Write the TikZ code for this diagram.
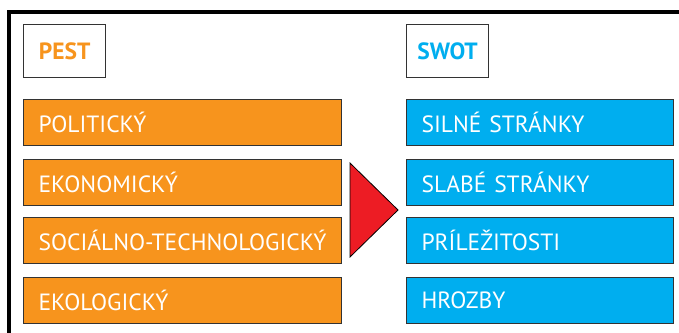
\documentclass[tikz,border=0pt]{standalone}
\usepackage{fontspec}
\setmainfont{PT Sans}
\definecolor{pestorange}{HTML}{F7941D}
\definecolor{swotblue}{HTML}{00AEEF}
\definecolor{arrowred}{HTML}{ED1C24}
\definecolor{edge}{HTML}{333333}
\newcommand{\itemtext}[1]{\hspace*{15pt}\mbox{#1}}
\begin{document}
\begin{tikzpicture}[x=1pt,y=-1pt,
  headbox/.style={draw=edge, line width=1.2pt, fill=white, minimum width=82pt, minimum height=53pt,
    anchor=north west, inner sep=0pt, font=\fontsize{23.5}{23.5}\selectfont\bfseries},
  itembox/.style={draw=edge, line width=1.2pt, anchor=north west, minimum height=46pt,
    inner xsep=0pt, inner ysep=0pt, align=left, text=white,
    font=\fontsize{23.5}{23.5}\selectfont},
  pestitem/.style={itembox, fill=pestorange, text width=318pt},
  swotitem/.style={itembox, fill=swotblue, text width=267pt}]
\useasboundingbox (0,0) rectangle (679,332);
% outer frame, open towards the right and bottom edges
\draw[line width=4pt] (9,400) -- (9,12) -- (700,12);
% column headings
\node[headbox, text=pestorange] (pest) at (23,24) {PEST};
\node[headbox, text=swotblue] (swot) at (406,24) {SWOT};
% PEST factors
\node[pestitem] (pol) at (23,99)  {\itemtext{POLITICKÝ}};
\node[pestitem] (eko) at (23,159) {\itemtext{EKONOMICKÝ}};
\node[pestitem] (soc) at (23,217) {\itemtext{SOCIÁLNO-TECHNOLOGICKÝ}};
\node[pestitem] (ekl) at (23,277) {\itemtext{EKOLOGICKÝ}};
% SWOT factors
\node[swotitem] (sil) at (406,99)  {\itemtext{SILNÉ STRÁNKY}};
\node[swotitem] (sla) at (406,159) {\itemtext{SLABÉ STRÁNKY}};
\node[swotitem] (pri) at (406,217) {\itemtext{PRÍLEŽITOSTI}};
\node[swotitem] (hro) at (406,277) {\itemtext{HROZBY}};
% red arrow head between the columns
\draw[fill=arrowred, draw=black, line width=0.8pt, line join=miter] (350,163) -- (398,210) -- (350,257) -- cycle;
\end{tikzpicture}
\end{document}
